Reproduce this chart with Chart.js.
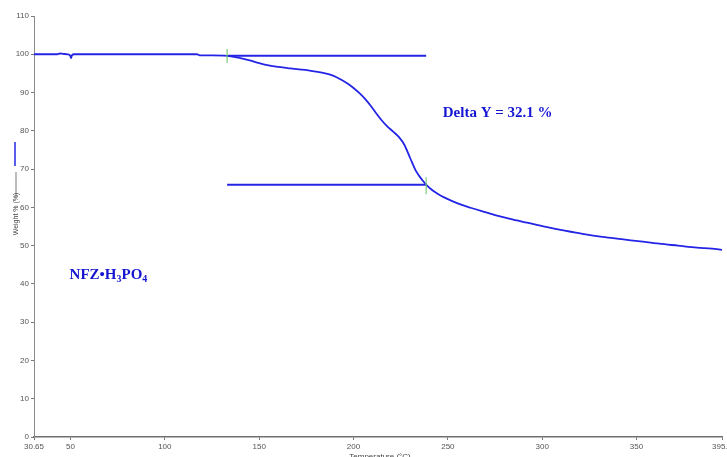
<!DOCTYPE html>
<html>
<head>
<meta charset="utf-8">
<script src="https://cdn.jsdelivr.net/npm/chart.js@4/dist/chart.umd.min.js"></script>
<style>
  html, body { margin: 0; padding: 0; background: #ffffff; }
  #wrap { width: 727px; height: 457px; position: relative; }
</style>
</head>
<body>
<div id="wrap"><canvas id="c" width="727" height="457"></canvas></div>
<script>
// ---- data ----
const temps = [30.65, 40, 43, 44.5, 46, 48.5, 49.8, 50.3, 50.8, 52, 70, 100, 117, 118.5, 125, 133, 139, 145, 150, 155, 160, 165, 170, 176, 181, 185, 188, 191, 194, 197, 200, 203, 206, 209, 212, 215, 218, 221, 224, 227, 230, 233, 236, 239, 242, 245, 248, 252, 257, 262, 268, 275, 283, 292, 302, 312, 322, 332, 342, 352, 362, 372, 382, 390, 395.3];
const weights = [100.0, 100.0, 100.0, 100.2, 100.1, 100.0, 99.7, 99.0, 99.8, 100.0, 100.0, 100.0, 100.0, 99.7, 99.7, 99.6, 99.1, 98.4, 97.7, 97.1, 96.7, 96.4, 96.1, 95.8, 95.4, 95.0, 94.6, 94.0, 93.2, 92.3, 91.2, 89.9, 88.4, 86.6, 84.6, 82.7, 81.1, 79.8, 78.4, 76.3, 72.9, 69.6, 67.4, 65.7, 64.4, 63.4, 62.6, 61.7, 60.7, 59.9, 59.0, 58.0, 57.0, 56.0, 54.9, 53.9, 53.0, 52.3, 51.7, 51.1, 50.5, 50.0, 49.5, 49.2, 48.9];

const onsetX = [133, 238.5];        // tangent/step-limit temperatures
const upperLevel = [99.6, 99.6];    // upper horizontal line
const lowerLevel = [65.9, 65.9];    // lower horizontal line
const markerLow = [97.8, 63.4];     // green marker bottoms
const markerHigh = [101.4, 67.9];   // green marker tops

const xTicks = [30.65, 50, 100, 150, 200, 250, 300, 350, 395.3];
const yTicks = [0, 10, 20, 30, 40, 50, 60, 70, 80, 90, 100, 110];

const sampleName = ['NFZ•H', '3', 'PO', '4'];
const deltaText = 'Delta Y = 32.1 %';
const yTitle = 'Weight % (%)';
const xTitle = 'Temperature (°C)';

// ---- build datasets ----
const curve = temps.map((t, i) => ({ x: t, y: weights[i] }));
const BLUE = '#2424e6';
const TXTBLUE = '#1515d2';
const GREEN = '#7cc87c';

const datasets = [
  { data: curve, borderColor: BLUE, borderWidth: 1.8, pointRadius: 0, cubicInterpolationMode: 'monotone', order: 1 },
  { data: onsetX.map((x, i) => ({ x, y: upperLevel[i] })), borderColor: BLUE, borderWidth: 2, pointRadius: 0, order: 2 },
  { data: onsetX.map((x, i) => ({ x, y: lowerLevel[i] })), borderColor: BLUE, borderWidth: 2, pointRadius: 0, order: 2 },
];
onsetX.forEach((x, i) => {
  datasets.push({ data: [{ x, y: markerLow[i] }, { x, y: markerHigh[i] }], borderColor: GREEN, borderWidth: 1.2, pointRadius: 0, order: 0 });
});

const tickFont = { family: "'Liberation Sans Narrow', 'Liberation Sans', Arial, sans-serif", size: 8 };

const decorations = {
  id: 'decorations',
  afterDraw(chart) {
    const ctx = chart.ctx;
    const xs = chart.scales.x, ys = chart.scales.y;
    ctx.save();
    // y-axis title with series key marks
    ctx.strokeStyle = BLUE; ctx.lineWidth = 1.5;
    ctx.beginPath(); ctx.moveTo(15, 142); ctx.lineTo(15, 166); ctx.stroke();
    ctx.strokeStyle = '#555'; ctx.lineWidth = 0.8;
    ctx.beginPath(); ctx.moveTo(16, 172); ctx.lineTo(16, 197); ctx.stroke();
    ctx.save();
    ctx.translate(16, 214);
    ctx.rotate(-Math.PI / 2);
    ctx.fillStyle = '#444';
    ctx.font = "7px 'Liberation Sans Narrow', 'Liberation Sans', Arial, sans-serif";
    ctx.textAlign = 'center'; ctx.textBaseline = 'middle';
    ctx.fillText(yTitle, 0, 0);
    ctx.restore();
    // x-axis title (cut by the bottom edge)
    ctx.fillStyle = '#444';
    ctx.font = "8px 'Liberation Sans', Arial, sans-serif";
    ctx.textAlign = 'center'; ctx.textBaseline = 'top';
    ctx.fillText(xTitle, 380, 453);
    // sample label with subscripts
    ctx.fillStyle = TXTBLUE;
    ctx.textAlign = 'left'; ctx.textBaseline = 'alphabetic';
    let px = xs.getPixelForValue(49.5), py = ys.getPixelForValue(41.4);
    const big = "bold 15px 'Liberation Serif', 'Times New Roman', serif";
    const small = "bold 10px 'Liberation Serif', 'Times New Roman', serif";
    sampleName.forEach((s, i) => {
      const sub = i % 2 === 1;
      ctx.font = sub ? small : big;
      ctx.fillText(s, px, sub ? py + 3 : py);
      px += ctx.measureText(s).width;
    });
    // delta label
    ctx.font = big;
    ctx.fillText(deltaText, xs.getPixelForValue(247.3), ys.getPixelForValue(83.6));
    ctx.restore();
  }
};

new Chart(document.getElementById('c'), {
  type: 'line',
  data: { datasets },
  options: {
    responsive: false,
    animation: false,
    events: [],
    layout: { padding: { top: 16, right: 5, left: 0, bottom: 0 } },
    plugins: { legend: { display: false }, tooltip: { enabled: false }, title: { display: false } },
    elements: { line: { tension: 0 } },
    scales: {
      x: {
        type: 'linear',
        min: 30.65, max: 395.3,
        afterBuildTicks(scale) { scale.ticks = xTicks.map(v => ({ value: v })); },
        afterFit(scale) { scale.height = 20; scale.paddingLeft = 0; scale.paddingRight = 0; },
        grid: { drawOnChartArea: false, drawTicks: true, tickLength: 3, color: '#777', lineWidth: 1 },
        border: { color: '#6f6f6f', width: 1.5 },
        ticks: {
          autoSkip: false, maxRotation: 0, padding: 2, color: '#555', font: tickFont,
          callback: (v) => String(v)
        }
      },
      y: {
        type: 'linear',
        min: 0, max: 110,
        afterBuildTicks(scale) { scale.ticks = yTicks.map(v => ({ value: v })); },
        afterFit(scale) { scale.width = 34; },
        grid: { drawOnChartArea: false, drawTicks: true, tickLength: 3, color: '#777', lineWidth: 1 },
        border: { color: '#8a8a8a', width: 1 },
        ticks: { padding: 2, color: '#555', font: tickFont }
      }
    }
  },
  plugins: [decorations]
});
</script>
</body>
</html>
